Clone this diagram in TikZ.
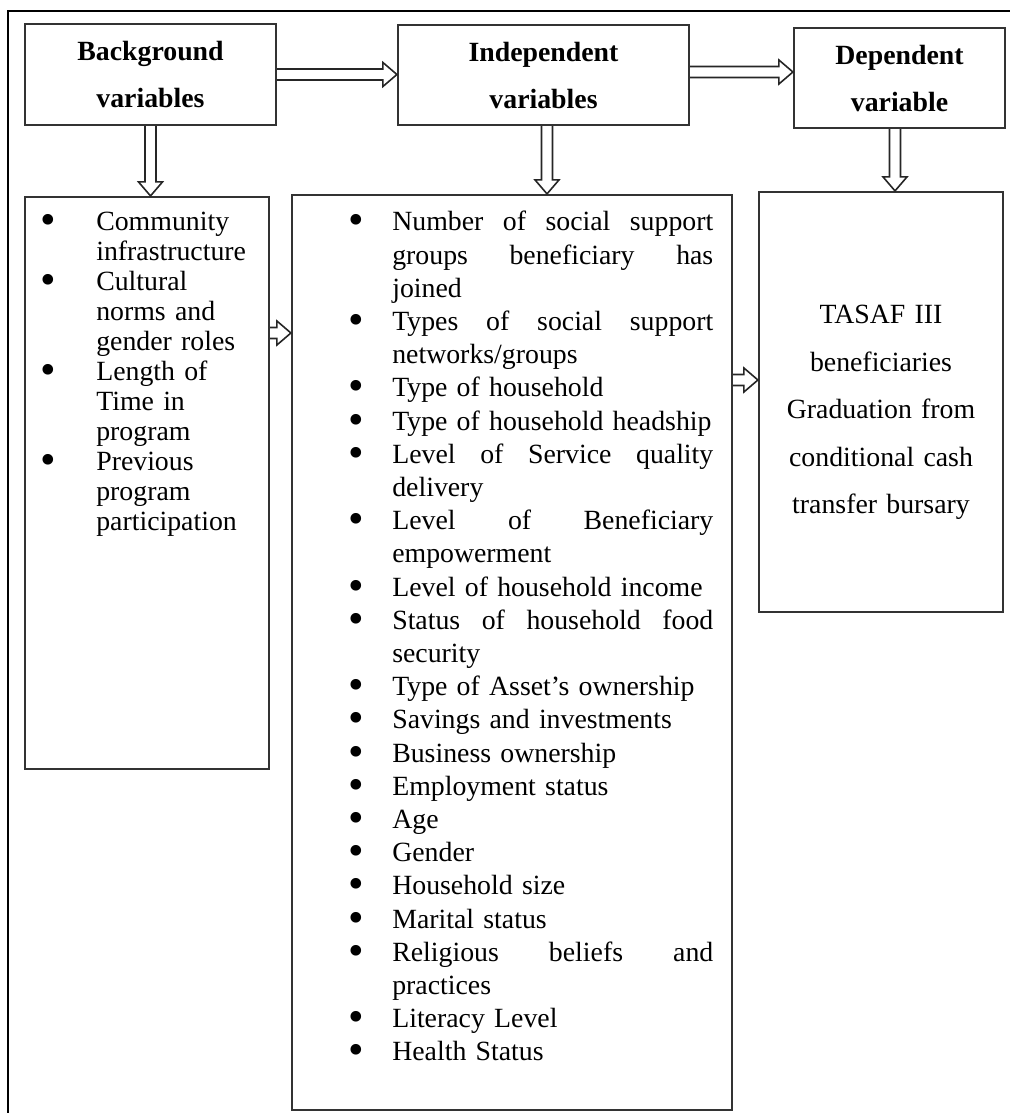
\documentclass[tikz,border=0pt]{standalone}
\usepackage{fontspec}
\setmainfont{Liberation Serif}
\usetikzlibrary{calc}

% bullet list with fixed indents: #1 text indent, #2 gap after bullet
\newcommand{\bigdot}{\smash{\raisebox{-2pt}{\scalebox{1.6}{\textbullet}}}}
\newenvironment{varlist}[2]{%
  \begin{list}{\bigdot}{%
    \setlength{\leftmargin}{#1}\setlength{\labelsep}{#2}%
    \setlength{\labelwidth}{\dimexpr#1-#2\relax}%
    \setlength{\itemsep}{0pt}\setlength{\parsep}{0pt}%
    \setlength{\topsep}{0pt}\setlength{\partopsep}{0pt}%
    \setlength{\rightmargin}{0pt}}}%
  {\end{list}}
% justified line (align=left fixes \spaceskip, so free it again)
\newcommand{\fillline}[1]{\makebox[160.5pt][s]{\spaceskip=0pt\relax #1}}

\tikzset{
  varbox/.style={draw=black!80, line width=1.1pt, inner sep=0pt},
  headbox/.style={varbox, align=center, font=\fontsize{13.9}{23.5}\selectfont\bfseries},
  listtext/.style={anchor=base west, inner sep=0pt, align=left},
  blockarrow/.style={draw=black!85, line width=0.8pt, to path={
    ($(\tikztotarget)!7pt!(\tikztostart)$) coordinate (ab)
    ($(\tikztostart)!2.75pt!90:(\tikztotarget)$) -- ($(ab)!2.75pt!90:(\tikztotarget)$)
    -- ($(ab)!6pt!90:(\tikztotarget)$) -- (\tikztotarget)
    -- ($(ab)!6pt!-90:(\tikztotarget)$) -- ($(ab)!2.75pt!-90:(\tikztotarget)$)
    -- ($(\tikztostart)!2.75pt!-90:(\tikztotarget)$)}}
}

\begin{document}
\begin{tikzpicture}[x=0.5pt,y=-0.5pt]
\useasboundingbox (0,0) rectangle (1010,1113);
% outer frame, cut by the page
\draw[line width=1.4pt] (8,1113) -- (8,11) -- (1010,11);

% top row
\node[headbox, minimum width=125.5pt, minimum height=50.5pt] (bg) at (150.5,74.5) {Background\\variables};
\node[headbox, minimum width=145.5pt, minimum height=50pt] (ind) at (543.5,75) {Independent\\variables};
\node[headbox, minimum width=105.5pt, minimum height=50pt] (dep) at (899.5,78) {Dependent\\variable};

% lower boxes
\node[varbox, minimum width=122pt, minimum height=286pt] (bglist) at (147,483) {};
\node[varbox, minimum width=220pt, minimum height=457.5pt] (indlist) at (512,652.5) {};
\node[varbox, minimum width=122pt, minimum height=210pt] (deplist) at (881,402) {};

\node[listtext, text width=122pt, font=\fontsize{13.9}{15}\selectfont] (bgtext) at ([yshift=-2.5pt]bglist.north west) {%
\begin{varlist}{36pt}{20.3pt}
\item Community\newline infrastructure
\item Cultural\newline norms and\newline gender roles
\item Length of\newline Time in\newline program
\item Previous\newline program\newline participation
\end{varlist}};

\node[listtext, text width=211pt, font=\fontsize{13.9}{16.6}\selectfont] (indtext) at ([yshift=-1.9pt]indlist.north west) {%
\begin{varlist}{50.5pt}{14.3pt}
\item \fillline{Number of social support}\newline\fillline{groups beneficiary has}\newline joined
\item \fillline{Types of social support}\newline networks/groups
\item Type of household
\item Type of household headship
\item \fillline{Level of Service quality}\newline delivery
\item \fillline{Level of Beneficiary}\newline empowerment
\item Level of household income
\item \fillline{Status of household food}\newline security
\item Type of Asset’s ownership
\item Savings and investments
\item Business ownership
\item Employment status
\item Age
\item Gender
\item Household size
\item Marital status
\item \fillline{Religious beliefs and}\newline practices
\item Literacy Level
\item Health Status
\end{varlist}};

\node[anchor=base, inner sep=0pt, text width=118pt, align=center, font=\fontsize{13.9}{23.75}\selectfont] (deptext) at ([yshift=-66.5pt]deplist.north) {TASAF III\\beneficiaries\\Graduation from\\conditional cash\\transfer bursary};

% arrows
\coordinate (a1) at ([yshift=1.5pt]ind.east);
\coordinate (a2) at ([xshift=1.75pt]ind.south);
\coordinate (a3) at ([xshift=-2.25pt]dep.south);
\coordinate (m1) at (0,333);
\coordinate (m2) at (0,380);
\draw[blockarrow] (bg.east) to (bg.east -| ind.west);
\draw[blockarrow] (a1) to (a1 -| dep.west);
\draw[blockarrow] (bg.south) to (bg.south |- bglist.north);
\draw[blockarrow] (a2) to (a2 |- indlist.north);
\draw[blockarrow] (a3) to (a3 |- deplist.north);
\draw[blockarrow] (bglist.east |- m1) to (indlist.west |- m1);
\draw[blockarrow] (indlist.east |- m2) to (deplist.west |- m2);
\end{tikzpicture}
\end{document}
